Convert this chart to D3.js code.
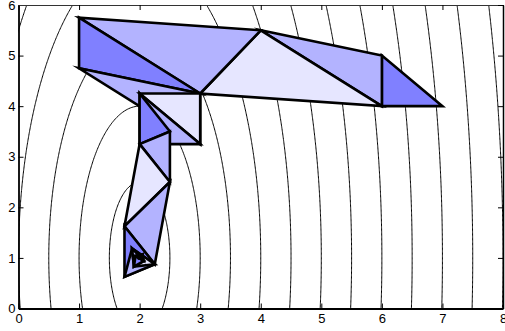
<!DOCTYPE html>
<html><head><meta charset="utf-8">
<script src="https://cdn.jsdelivr.net/npm/d3@7"></script>
<style>body{margin:0;background:#fff}svg{display:block}</style></head>
<body><svg id="chart" width="505" height="331"></svg>
<script>
// ---- data ----
const xTicks = [0, 1, 2, 3, 4, 5, 6, 7, 8];
const yTicks = [0, 1, 2, 3, 4, 5, 6];
// contour levels of the objective surface
const contourLevels = [0.25, 1, 2.25, 4, 6.25, 9, 12.25, 16, 20.25, 25, 30.25, 36, 42.25, 49, 56.25];
const minimumX = 2, minimumY = 1, yStretch = 3;
// simplex vertices (x and y of the three corners of each simplex), in drawing order
const simplexX = [
  [7, 6, 6], [6, 6, 4], [6, 4, 3], [4, 3, 1], [3, 1, 1], [3, 1, 3], [3, 3, 2],
  [3, 2, 2], [2, 2, 2.5], [2, 2.5, 2.5], [2, 2.5, 1.75], [2.5, 1.75, 2.25],
  [1.75, 2.25, 1.75], [2.25, 1.75, 1.875], [2.25, 1.875, 1.906], [1.875, 1.906, 2.070],
  [1.906, 2.070, 1.932], [2.070, 1.932, 2.048], [1.932, 2.048, 2.030],
  [2.048, 2.030, 1.985], [2.030, 1.985, 1.988]
];
const simplexY = [
  [4, 4, 5], [4, 5, 5.5], [4, 5.5, 4.25], [5.5, 4.25, 5.75], [4.25, 5.75, 4.75],
  [4.25, 4.75, 3.25], [4.25, 3.25, 4.25], [3.25, 4.25, 3.25], [4.25, 3.25, 3.5],
  [3.25, 3.5, 2.5], [3.25, 2.5, 1.625], [2.5, 1.625, 0.875], [1.625, 0.875, 0.625],
  [0.875, 0.625, 1.1875], [0.875, 1.1875, 0.828], [1.1875, 0.828, 0.941],
  [0.828, 0.941, 1.036], [0.941, 1.036, 1.069], [1.036, 1.069, 0.997],
  [1.069, 0.997, 1.035], [0.997, 1.035, 0.989]
];
const simplexShade = [0, 1, 2, 1, 0, 1, 2, 1, 0, 1, 2, 1, 0, 1, 2, 1, 0, 1, 2, 1, 0];

// ---- styles ----
const shadeColors = ["#8080ff", "#b3b3ff", "#e6e6ff"];
const W = 505, H = 331;
const plot = {left: 18.5, right: 503, top: 5, bottom: 308.5};

const svg = d3.select("#chart");
svg.append("rect").attr("width", W).attr("height", H).attr("fill", "#fff");

const x = d3.scaleLinear().domain([0, 8]).range([plot.left, plot.right]);
const y = d3.scaleLinear().domain([0, 6]).range([plot.bottom, plot.top]);

svg.append("clipPath").attr("id", "clip").append("rect")
  .attr("x", plot.left).attr("y", plot.top)
  .attr("width", plot.right - plot.left).attr("height", plot.bottom - plot.top);

// ---- contour field ----
const gx0 = -0.6, gx1 = 8.6, gy0 = -0.6, gy1 = 6.6, step = 0.025;
const nx = Math.round((gx1 - gx0) / step) + 1, ny = Math.round((gy1 - gy0) / step) + 1;
const values = new Float64Array(nx * ny);
for (let j = 0; j < ny; j++) {
  const yy = gy0 + j * step;
  for (let i = 0; i < nx; i++) {
    const xx = gx0 + i * step;
    values[i + j * nx] = (xx - minimumX) ** 2 + ((yy - minimumY) / yStretch) ** 2;
  }
}
const contours = d3.contours().size([nx, ny]).thresholds(contourLevels)(values);
const proj = d3.geoTransform({
  point: function(px, py) {
    this.stream.point(x(gx0 + (px - 0.5) * step), y(gy0 + (py - 0.5) * step));
  }
});
const cpath = d3.geoPath(proj);
svg.append("g").attr("clip-path", "url(#clip)")
  .selectAll("path").data(contours).join("path")
  .attr("d", cpath).attr("fill", "none").attr("stroke", "#000").attr("stroke-width", 1);

// ---- simplices ----
const tri = simplexX.map((xs, k) => xs.map((v, m) => [v, simplexY[k][m]]));
svg.append("g").selectAll("path").data(tri).join("path")
  .attr("d", d => "M" + d.map(p => x(p[0]) + "," + y(p[1])).join("L") + "Z")
  .attr("fill", (d, k) => shadeColors[simplexShade[k]])
  .attr("stroke", "#000").attr("stroke-width", 2.6)
  .attr("stroke-linejoin", "miter").attr("stroke-miterlimit", 10);

// ---- axes ----
const font = "'Liberation Sans', Arial, Helvetica, sans-serif";
const gb = svg.append("g").attr("transform", `translate(0,${plot.bottom})`)
  .call(d3.axisBottom(x).tickValues(xTicks).tickFormat(d3.format("d")).tickSizeInner(-5).tickSizeOuter(0).tickPadding(5));
const gl = svg.append("g").attr("transform", `translate(${plot.left},0)`)
  .call(d3.axisLeft(y).tickValues(yTicks).tickFormat(d3.format("d")).tickSizeInner(-5).tickSizeOuter(0).tickPadding(3));
const gt = svg.append("g").attr("transform", `translate(0,${plot.top})`)
  .call(d3.axisTop(x).tickValues(xTicks).tickFormat("").tickSizeInner(-5).tickSizeOuter(0));
const gr = svg.append("g").attr("transform", `translate(${plot.right},0)`)
  .call(d3.axisRight(y).tickValues(yTicks).tickFormat("").tickSizeInner(-5).tickSizeOuter(0));
[gb, gl, gt, gr].forEach(g => {
  g.selectAll("text").attr("font-family", font).attr("font-size", 13).attr("fill", "#000");
  g.selectAll("line").attr("stroke", "#000").attr("stroke-width", 1);
});
gb.select(".domain").attr("stroke", "#000").attr("stroke-width", 2);
gl.select(".domain").attr("stroke", "#000").attr("stroke-width", 1.8);
gt.select(".domain").attr("stroke", "#333").attr("stroke-width", 1);
gr.select(".domain").attr("stroke", "#000").attr("stroke-width", 1.5);
</script></body></html>
